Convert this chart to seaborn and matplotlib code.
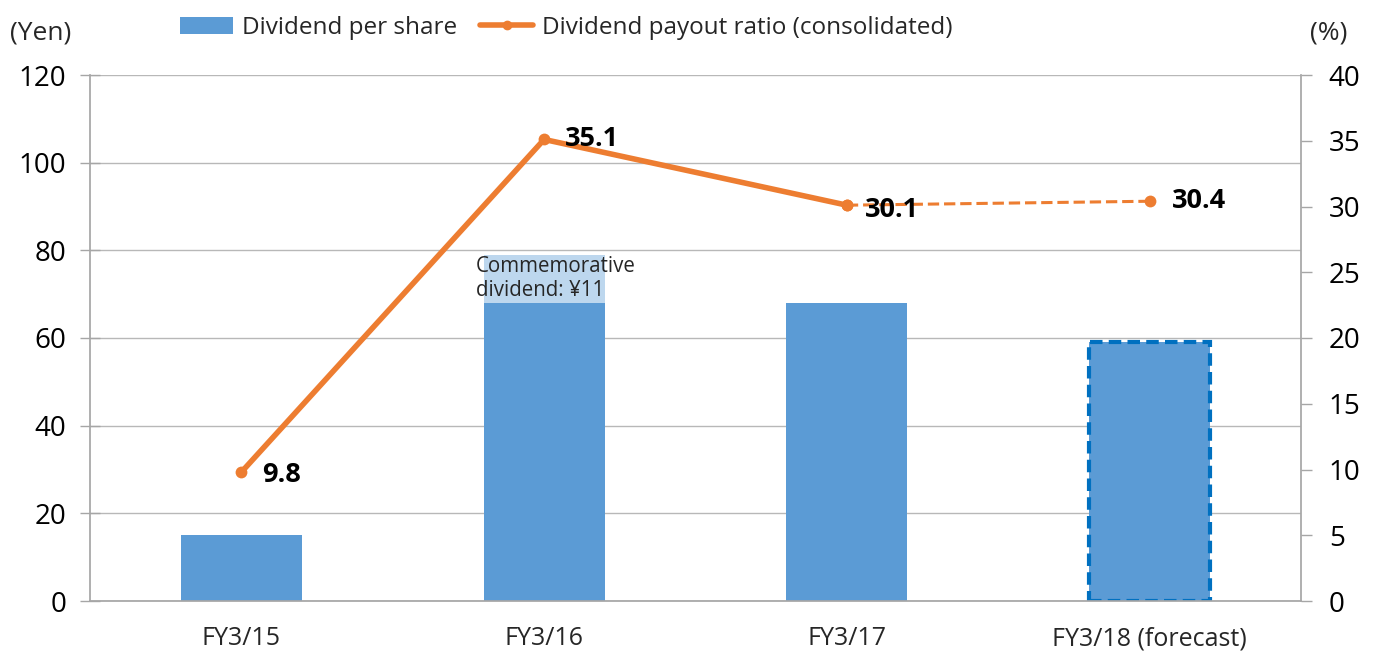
import matplotlib
matplotlib.use("Agg")
import matplotlib.pyplot as plt
import seaborn as sns
import pandas as pd
import numpy as np
from matplotlib.patches import Patch
from matplotlib.lines import Line2D

categories = ["FY3/15", "FY3/16", "FY3/17", "FY3/18 (forecast)"]
dividend_base = [15, 68, 68, 59]
commemorative = [0, 11, 0, 0]
payout_ratio = [9.8, 35.1, 30.1, 30.4]
payout_labels = ["9.8", "35.1", "30.1", "30.4"]
left_ticks = [0, 20, 40, 60, 80, 100, 120]
right_ticks = [0, 5, 10, 15, 20, 25, 30, 35, 40]

sns.set_theme(style="white")
plt.rcParams['font.family'] = ['Open Sans', 'DejaVu Sans']

BLUE = "#5B9BD5"
LIGHT = "#BDD7EE"
ORANGE = "#ED7D31"
EDGE = "#0070C0"
AXC = "#A6A6A6"

fig = plt.figure(figsize=(13.73, 6.63), dpi=100)
ax = fig.add_axes([90/1373, 1-601/663, (1301-90)/1373, (601-75)/663])

df = pd.DataFrame({
    "cat": categories,
    "base": dividend_base,
    "total": [b + c for b, c in zip(dividend_base, commemorative)],
})

sns.barplot(data=df, x="cat", y="total", color=LIGHT, width=0.4, ax=ax,
            saturation=1, linewidth=0)
sns.barplot(data=df, x="cat", y="base", color=BLUE, width=0.4, ax=ax,
            saturation=1, linewidth=0)

n = len(categories)
fc = ax.patches[n + 3]
fc.set_edgecolor(EDGE)
fc.set_linewidth(3)
fc.set_linestyle((0, (3, 1.5)))

ax.set_ylim(0, 120)
ax.set_yticks(left_ticks)
ax.set_xlim(-0.5, n - 0.5)
ax.set_xlabel("")
ax.set_ylabel("")
ax.yaxis.grid(True, color="#B8B8B8", linewidth=1)
ax.set_axisbelow(True)
for s in ["top", "right"]:
    ax.spines[s].set_visible(False)
ax.spines["left"].set_color(AXC)
ax.spines["bottom"].set_color(AXC)
ax.tick_params(axis="y", labelsize=20, colors=AXC, labelcolor="black",
               length=14, direction="inout", width=1, pad=10)
ax.set_xticks(np.arange(-0.5, n, 1.0), minor=True)
ax.set_xticks(range(n))
ax.set_xticklabels(categories, fontsize=18)
ax.tick_params(axis="x", which="major", length=0, pad=18)
ax.tick_params(axis="x", which="minor", length=7, color=AXC, direction="out", width=1)

ax.text(1 - 0.225, 79 - 0.3, "Commemorative\ndividend: ¥11", fontsize=14.8,
        va="top", ha="left", linespacing=1.2)

ax2 = ax.twinx()
xs = list(range(n))
line_df = pd.DataFrame({"x": xs, "ratio": payout_ratio})
sns.lineplot(data=line_df.iloc[:3], x="x", y="ratio", color=ORANGE, linewidth=4,
             marker="o", markersize=8.5, markeredgewidth=0, ax=ax2)
sns.lineplot(data=line_df.iloc[2:], x="x", y="ratio", color=ORANGE, linewidth=2.2,
             linestyle="--", dashes=(3, 2), marker="o", markersize=8.5, markeredgewidth=0, ax=ax2)
ax2.set_ylim(0, 40)
ax2.set_yticks(right_ticks)
ax2.set_xlim(-0.5, n - 0.5)
ax2.set_ylabel("")
ax2.set_xlabel("")
for s in ["top", "left", "bottom"]:
    ax2.spines[s].set_visible(False)
ax2.spines["right"].set_color(AXC)
ax2.tick_params(axis="y", labelsize=20, colors=AXC, labelcolor="black",
                length=8, direction="out", width=1, pad=12, right=True)
ax2.grid(False)

offsets = [(0.068, -0.2), (0.07, 0.0), (0.06, -0.4), (0.075, 0.0)]
for i, (lbl, v) in enumerate(zip(payout_labels, payout_ratio)):
    dx, dy = offsets[i]
    ax2.text(i + dx, v + dy, lbl, fontsize=19.5, fontweight="bold", va="center",
             ha="left", color="black")

fig.text(10/1373, 1-33/663, "(Yen)", fontsize=19, va="center", ha="left")
fig.text(1310/1373, 1-33/663, "(%)", fontsize=19, va="center", ha="left")

handles = [Patch(facecolor=BLUE, edgecolor="none"),
           Line2D([0], [0], color=ORANGE, lw=4, marker="o", markersize=6)]
fig.legend(handles, ["Dividend per share", "Dividend payout ratio (consolidated)"],
           loc="center", bbox_to_anchor=(566/1373, 1-28/663), ncol=2, frameon=False,
           fontsize=17.5, handlelength=2.2, handletextpad=0.35, columnspacing=0.95,
           borderaxespad=0, borderpad=0)

fig.savefig("out.png", dpi=100)
